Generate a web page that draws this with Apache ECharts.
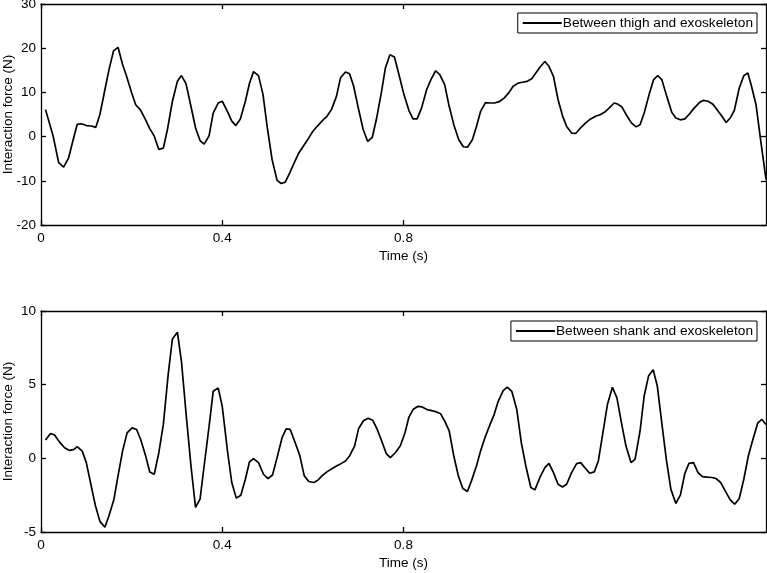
<!DOCTYPE html>
<html>
<head>
<meta charset="utf-8">
<title>Interaction force</title>
<script src="https://cdn.jsdelivr.net/npm/echarts@6/dist/echarts.min.js"></script>
<style>
  html, body { margin: 0; padding: 0; background: #fff; }
  #chart { width: 767px; height: 573px; }
</style>
</head>
<body>
<div id="chart"></div>
<script>
// time ticks that carry a label
var xTickVals = [0, 0.4, 0.8];

// thigh / exoskeleton force (N)
var thighTime = [0.010, 0.027, 0.039, 0.050, 0.061, 0.071, 0.080, 0.089, 0.100, 0.111,
  0.121, 0.130, 0.141, 0.150, 0.160, 0.170, 0.180, 0.189, 0.200, 0.209,
  0.219, 0.229, 0.240, 0.250, 0.260, 0.270, 0.279, 0.290, 0.301, 0.310,
  0.320, 0.331, 0.341, 0.351, 0.360, 0.371, 0.380, 0.391, 0.400, 0.410,
  0.421, 0.430, 0.440, 0.451, 0.460, 0.469, 0.480, 0.490, 0.499, 0.510,
  0.521, 0.530, 0.539, 0.549, 0.559, 0.569, 0.580, 0.591, 0.600, 0.611,
  0.621, 0.631, 0.641, 0.652, 0.661, 0.672, 0.681, 0.690, 0.701, 0.711,
  0.721, 0.731, 0.740, 0.751, 0.760, 0.770, 0.780, 0.790, 0.801, 0.812,
  0.821, 0.830, 0.840, 0.851, 0.861, 0.871, 0.880, 0.891, 0.900, 0.911,
  0.922, 0.932, 0.941, 0.952, 0.961, 0.970, 0.981, 0.991, 1.001, 1.011,
  1.022, 1.033, 1.042, 1.053, 1.062, 1.073, 1.083, 1.092, 1.101, 1.112,
  1.121, 1.131, 1.141, 1.151, 1.160, 1.171, 1.180, 1.191, 1.202, 1.213,
  1.224, 1.235, 1.246, 1.257, 1.265, 1.272, 1.282, 1.293, 1.303, 1.313,
  1.322, 1.331, 1.342, 1.352, 1.361, 1.370, 1.381, 1.392, 1.401, 1.411,
  1.421, 1.430, 1.442, 1.453, 1.462, 1.472, 1.482, 1.492, 1.502, 1.512,
  1.521, 1.530, 1.541, 1.551, 1.560, 1.568, 1.578, 1.589, 1.600];
var thighForce = [6.1, 0.0, -5.9, -6.9, -4.8, -0.7, 2.8, 2.9, 2.5, 2.4,
  2.1, 5.0, 10.6, 15.1, 19.4, 20.2, 16.3, 13.6, 9.9, 7.2,
  6.1, 4.2, 1.8, 0.1, -2.9, -2.6, 1.6, 8.0, 12.5, 13.8,
  12.0, 6.8, 2.0, -0.9, -1.7, 0.2, 5.3, 7.6, 8.0, 6.0,
  3.5, 2.5, 4.0, 8.0, 12.0, 14.7, 13.8, 9.5, 2.3, -5.2,
  -9.9, -10.6, -10.3, -8.2, -5.9, -3.7, -2.0, -0.3, 1.2, 2.5,
  3.6, 4.6, 6.1, 9.1, 13.3, 14.6, 14.2, 11.4, 6.1, 1.6,
  -1.1, -0.2, 3.8, 9.9, 15.5, 18.5, 18.0, 14.0, 9.5, 5.9,
  4.0, 4.0, 6.5, 10.6, 13.0, 14.9, 14.0, 11.7, 7.2, 2.7,
  -0.7, -2.3, -2.4, -0.7, 2.3, 5.7, 7.7, 7.6, 7.6, 7.9,
  8.7, 10.0, 11.4, 12.1, 12.3, 12.5, 13.1, 14.4, 15.7, 17.0,
  15.9, 13.6, 8.4, 4.7, 2.3, 0.8, 0.7, 2.0, 3.1, 4.0,
  4.6, 5.0, 5.7, 6.8, 7.6, 7.4, 6.7, 4.7, 3.1, 2.2,
  2.7, 5.3, 9.5, 12.9, 13.8, 12.9, 9.1, 5.5, 4.2, 3.8,
  4.0, 5.0, 6.5, 7.7, 8.2, 8.0, 7.4, 6.1, 4.7, 3.2,
  4.2, 5.9, 11.0, 13.8, 14.4, 11.4, 7.2, -1.4, -9.7];

// shank / exoskeleton force (N)
var shankTime = [0.010, 0.021, 0.030, 0.041, 0.052, 0.063, 0.073, 0.080, 0.091, 0.100,
  0.110, 0.120, 0.130, 0.141, 0.150, 0.161, 0.170, 0.180, 0.190, 0.201,
  0.211, 0.220, 0.231, 0.240, 0.250, 0.260, 0.270, 0.281, 0.290, 0.301,
  0.310, 0.320, 0.331, 0.341, 0.351, 0.360, 0.371, 0.380, 0.391, 0.400,
  0.412, 0.421, 0.431, 0.441, 0.451, 0.460, 0.469, 0.480, 0.491, 0.501,
  0.511, 0.521, 0.532, 0.541, 0.550, 0.561, 0.571, 0.581, 0.591, 0.602,
  0.611, 0.620, 0.631, 0.642, 0.652, 0.662, 0.672, 0.681, 0.692, 0.701,
  0.712, 0.722, 0.732, 0.742, 0.751, 0.762, 0.771, 0.782, 0.793, 0.803,
  0.812, 0.821, 0.832, 0.841, 0.852, 0.862, 0.873, 0.882, 0.891, 0.901,
  0.911, 0.921, 0.931, 0.941, 0.950, 0.961, 0.970, 0.981, 0.991, 1.000,
  1.009, 1.020, 1.029, 1.039, 1.050, 1.060, 1.070, 1.081, 1.090, 1.101,
  1.112, 1.121, 1.131, 1.141, 1.151, 1.160, 1.171, 1.182, 1.191, 1.200,
  1.211, 1.221, 1.230, 1.240, 1.250, 1.261, 1.271, 1.281, 1.291, 1.302,
  1.311, 1.322, 1.331, 1.341, 1.351, 1.360, 1.370, 1.380, 1.390, 1.401,
  1.411, 1.421, 1.430, 1.440, 1.450, 1.460, 1.471, 1.481, 1.490, 1.500,
  1.510, 1.521, 1.531, 1.541, 1.551, 1.561, 1.571, 1.582, 1.591, 1.600];
var shankForce = [1.24, 1.69, 1.58, 1.10, 0.72, 0.54, 0.61, 0.79, 0.49, -0.29,
  -1.76, -3.20, -4.28, -4.68, -3.90, -2.77, -1.19, 0.49, 1.73, 2.07,
  1.96, 1.28, 0.16, -0.93, -1.08, 0.38, 2.30, 5.79, 8.10, 8.56,
  6.57, 3.09, -0.52, -3.33, -2.77, -0.52, 2.18, 4.55, 4.78, 3.53,
  0.38, -1.64, -2.70, -2.50, -1.42, -0.25, -0.02, -0.29, -1.08, -1.37,
  -1.13, 0.05, 1.40, 2.00, 1.96, 1.06, 0.20, -1.19, -1.57, -1.64,
  -1.49, -1.19, -0.92, -0.70, -0.52, -0.36, -0.18, 0.16, 0.83, 2.03,
  2.57, 2.72, 2.59, 1.96, 1.24, 0.32, 0.05, 0.38, 0.85, 1.70,
  2.80, 3.31, 3.53, 3.49, 3.31, 3.24, 3.15, 3.02, 2.52, 1.84,
  0.16, -1.19, -2.05, -2.25, -1.53, -0.52, 0.49, 1.51, 2.30, 2.97,
  3.87, 4.59, 4.84, 4.55, 3.31, 1.06, -0.52, -1.98, -2.14, -1.30,
  -0.63, -0.34, -0.97, -1.76, -1.94, -1.76, -0.97, -0.36, -0.29, -0.63,
  -1.01, -0.92, -0.18, 1.73, 3.65, 4.82, 4.10, 2.41, 0.83, -0.29,
  -0.07, 1.84, 4.21, 5.61, 6.01, 4.93, 2.41, -0.07, -2.09, -3.06,
  -2.50, -1.01, -0.34, -0.29, -0.97, -1.24, -1.28, -1.30, -1.37, -1.64,
  -2.21, -2.82, -3.11, -2.72, -1.42, 0.16, 1.28, 2.41, 2.64, 2.30];

var thighName = 'Between thigh and exoskeleton';
var shankName = 'Between shank and exoskeleton';

function pairs(t, v) {
  var out = [];
  for (var i = 0; i < t.length; i++) out.push([t[i], v[i]]);
  return out;
}

var font = "'Liberation Sans', Arial, Helvetica, sans-serif";
var black = '#000';
var fs = 13.5;

function bottomX(grid) {
  return {
    gridIndex: grid, type: 'value', min: 0, max: 1.6, position: 'bottom',
    name: 'Time (s)', nameLocation: 'middle', nameGap: 24, nameMoveOverlap: false,
    nameTextStyle: { color: black, fontSize: fs, fontFamily: font },
    axisLine: { onZero: false, lineStyle: { color: black, width: 1.3 } },
    axisTick: { inside: true, length: 5, customValues: xTickVals, lineStyle: { color: black, width: 1.3 } },
    axisLabel: { customValues: xTickVals, color: black, fontSize: fs, fontFamily: font, margin: 6 },
    splitLine: { show: false }
  };
}
function topX(grid) {
  return {
    gridIndex: grid, type: 'value', min: 0, max: 1.6, position: 'top',
    axisLine: { onZero: false, lineStyle: { color: black, width: 1.3 } },
    axisTick: { inside: true, length: 5, customValues: xTickVals, lineStyle: { color: black, width: 1.3 } },
    axisLabel: { show: false },
    splitLine: { show: false }
  };
}
function leftY(grid, lo, hi, step) {
  return {
    gridIndex: grid, type: 'value', min: lo, max: hi, interval: step, position: 'left',
    name: 'Interaction force (N)', nameLocation: 'middle', nameGap: 26, nameMoveOverlap: false,
    nameTextStyle: { color: black, fontSize: fs, fontFamily: font },
    axisLine: { show: true, onZero: false, lineStyle: { color: black, width: 1.3 } },
    axisTick: { show: true, inside: true, length: 5, lineStyle: { color: black, width: 1.3 } },
    axisLabel: { color: black, fontSize: fs, fontFamily: font, margin: 5 },
    splitLine: { show: false }
  };
}
function rightY(grid, lo, hi, step) {
  return {
    gridIndex: grid, type: 'value', min: lo, max: hi, interval: step, position: 'right',
    axisLine: { show: true, onZero: false, lineStyle: { color: black, width: 1.3 } },
    axisTick: { show: true, inside: true, length: 5, lineStyle: { color: black, width: 1.3 } },
    axisLabel: { show: false },
    splitLine: { show: false }
  };
}
function legendBox(name, top) {
  return {
    data: [{ name: name, icon: 'rect' }], right: 10, top: top, orient: 'horizontal',
    backgroundColor: '#fff', borderColor: black, borderWidth: 1, borderRadius: 0,
    padding: [3, 4, 3, 5], itemWidth: 39, itemHeight: 2, itemGap: 0,
    textStyle: { color: black, fontSize: 13.7, fontFamily: font, padding: [0, 0, 0, -4] }
  };
}

var chart = echarts.init(document.getElementById('chart'), null, { renderer: 'canvas' });

var option = {
  backgroundColor: '#fff',
  animation: false,
  grid: [
    { left: 41, right: 1, top: 4, height: 221, outerBoundsMode: 'none', containLabel: false },
    { left: 41, right: 1, top: 311, height: 221, outerBoundsMode: 'none', containLabel: false }
  ],
  xAxis: [bottomX(0), topX(0), bottomX(1), topX(1)],
  yAxis: [leftY(0, -20, 30, 10), rightY(0, -20, 30, 10), leftY(1, -5, 10, 5), rightY(1, -5, 10, 5)],
  legend: [legendBox(thighName, 13), legendBox(shankName, 321)],
  series: [
    {
      name: thighName, type: 'line', xAxisIndex: 0, yAxisIndex: 0,
      data: pairs(thighTime, thighForce), symbol: 'none', clip: true,
      lineStyle: { color: black, width: 1.7 }, itemStyle: { color: black }
    },
    {
      name: shankName, type: 'line', xAxisIndex: 2, yAxisIndex: 2,
      data: pairs(shankTime, shankForce), symbol: 'none', clip: true,
      lineStyle: { color: black, width: 1.7 }, itemStyle: { color: black }
    }
  ]
};

chart.setOption(option);
</script>
</body>
</html>
